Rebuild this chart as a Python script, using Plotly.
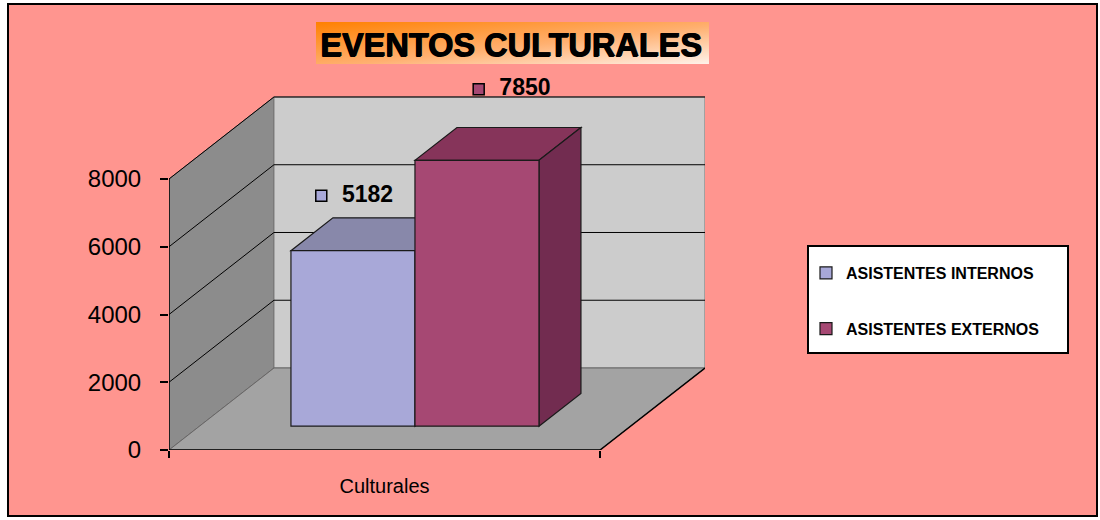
import base64
import plotly.graph_objects as go

# ---- data ----
categories = ["Culturales"]
series_names = ["ASISTENTES INTERNOS", "ASISTENTES EXTERNOS"]
series_values = [5182, 7850]
y_ticks = [0, 2000, 4000, 6000, 8000]
title_text = "EVENTOS CULTURALES"

# ---- style ----
front_colors = ["#a8a8d8", "#a64873"]
top_colors = ["#8888aa", "#86345a"]
side_colors = ["#8e8eb8", "#722c50"]
BG = "#ff958f"
FONT = "Liberation Sans, Arial, sans-serif"

YMAX = 8000
DX, DY = 0.2435, 2421          # full depth vector in axis units
F0, F1 = 0.29, 0.69            # bar depth (front/back fraction)
SLOT = 0.2877                  # bar width in x units

# geometry (pixels)
W, H = 1100, 520
L, B = 169, 70
X_UNIT = 431                   # px per x unit
Y_SCALE = 271 / 8000           # px per y unit
T = 60
R = W - L - round((1 + DX) * X_UNIT)
pw = W - L - R
ph = H - T - B
YTOP = ph / Y_SCALE

def px(xp):  # pixel -> paper x
    return (xp - L) / pw
def py(yp):  # pixel -> paper y
    return (H - B - yp) / ph

fig = go.Figure()
shapes = []

# outer salmon background with border
shapes.append(dict(type="rect", xref="paper", yref="paper", x0=px(8), x1=px(1097), y0=py(516), y1=py(4),
                   fillcolor=BG, line=dict(color="black", width=2), layer="below"))

def path(pts):
    return "M " + " L ".join(f"{x},{y}" for x, y in pts) + " Z"

# left side wall
shapes.append(dict(type="path", xref="x", yref="y", layer="below",
                   path=path([(0, 0), (0, YMAX), (DX, YMAX + DY), (DX, DY)]),
                   fillcolor="#8c8c8c", line=dict(color="#6a6a6a", width=1)))
# back wall
shapes.append(dict(type="path", xref="x", yref="y", layer="below",
                   path=path([(DX, DY), (1 + DX, DY), (1 + DX, YMAX + DY), (DX, YMAX + DY)]),
                   fillcolor="#cccccc", line=dict(color="#777777", width=1)))
# floor
shapes.append(dict(type="path", xref="x", yref="y", layer="below",
                   path=path([(0, 0), (1, 0), (1 + DX, DY), (DX, DY)]),
                   fillcolor="#a3a3a3", line=dict(color="#666666", width=1)))
shapes.append(dict(type="line", xref="x", yref="y", layer="below",
                   x0=1, y0=0, x1=1 + DX, y1=DY, line=dict(color="black", width=1.5)))

# gridlines
for v in y_ticks[1:]:
    shapes.append(dict(type="line", xref="x", yref="y", layer="below",
                       x0=0, y0=v, x1=DX, y1=v + DY, line=dict(color="black", width=1)))
    shapes.append(dict(type="line", xref="x", yref="y", layer="below",
                       x0=DX, y0=v + DY, x1=1 + DX, y1=v + DY, line=dict(color="black", width=1)))

# axis lines
shapes.append(dict(type="line", xref="x", yref="y", x0=0, y0=0, x1=0, y1=YMAX,
                   line=dict(color="black", width=1.5)))
shapes.append(dict(type="line", xref="x", yref="y", x0=0, y0=0, x1=1, y1=0,
                   line=dict(color="black", width=1.5)))

# bars: front faces are bar traces, top/side faces are shapes beneath traces
n = len(series_values)
start = 0.5 - n * SLOT / 2
ox, oy = F0 * DX, F0 * DY
ddx, ddy = (F1 - F0) * DX, (F1 - F0) * DY
for i, (name, v) in enumerate(zip(series_names, series_values)):
    xl = start + i * SLOT + ox
    xr = xl + SLOT
    fig.add_trace(go.Bar(
        x=[(xl + xr) / 2], y=[v], base=[oy], width=[SLOT], name=name,
        legendgroup=name,
        marker=dict(color=front_colors[i], line=dict(color="#1a1a1a", width=1.2)),
        hoverinfo="skip"))
    top = v + oy
    shapes.append(dict(type="path", xref="x", yref="y", layer="below",
                       path=path([(xl, top), (xr, top), (xr + ddx, top + ddy), (xl + ddx, top + ddy)]),
                       fillcolor=top_colors[i], line=dict(color="#1a1a1a", width=1.2)))
    shapes.append(dict(type="path", xref="x", yref="y", layer="below",
                       path=path([(xr, oy), (xr, top), (xr + ddx, top + ddy), (xr + ddx, oy + ddy)]),
                       fillcolor=side_colors[i], line=dict(color="#1a1a1a", width=1.2)))

# data labels (legend key + value)
label_nudge = [(-0.0735, 1620), (0.0040, 2100)]  # offset from bar top-front centre
lx, ly = [], []
for i, v in enumerate(series_values):
    xl = start + i * SLOT + ox
    lx.append(xl + SLOT / 2 + label_nudge[i][0])
    ly.append(v + oy + label_nudge[i][1])
fig.add_trace(go.Scatter(
    x=lx, y=ly, mode="markers+text", text=[f"  {v}" for v in series_values],
    textposition="middle right", cliponaxis=False, showlegend=False, hoverinfo="skip",
    marker=dict(symbol="square", size=11, color=front_colors, line=dict(color="black", width=1.5)),
    textfont=dict(family=FONT, size=23, color="black", weight="bold")))

# title box with gradient (svg image) and text
svg_src = ("<svg xmlns='http://www.w3.org/2000/svg' width='393' height='42' viewBox='0 0 393 42' "
           "preserveAspectRatio='none'>"
           "<defs><linearGradient id='g' x1='0' y1='0' x2='1' y2='1'>"
           "<stop offset='0' stop-color='#ff8000'/><stop offset='0.55' stop-color='#ffb070'/>"
           "<stop offset='1' stop-color='#fff2ea'/>"
           "</linearGradient></defs><rect width='393' height='42' fill='url(#g)'/></svg>")
svg = "data:image/svg+xml;base64," + base64.b64encode(svg_src.encode()).decode()
fig.add_layout_image(dict(source=svg, xref="paper", yref="paper", x=px(316), y=py(22),
                          sizex=px(709) - px(316), sizey=py(22) - py(64),
                          xanchor="left", yanchor="top", sizing="stretch", layer="above"))
fig.add_annotation(text=f"<b>{title_text}</b>", xref="paper", yref="paper",
                   x=px(511), y=py(45), xanchor="center", yanchor="middle", showarrow=False,
                   font=dict(family=FONT, size=32.5, color="black",
                             shadow="1px 0px 0px black, 0px 0.5px 0px black"))

# legend box
shapes.append(dict(type="rect", xref="paper", yref="paper", x0=px(808), x1=px(1068),
                   y0=py(353), y1=py(246), fillcolor="white", line=dict(color="black", width=2)))

fig.update_layout(
    width=W, height=H, margin=dict(l=L, r=R, t=T, b=B, pad=0),
    paper_bgcolor="white", plot_bgcolor="rgba(0,0,0,0)",
    shapes=shapes, barmode="overlay", showlegend=True,
    legend=dict(x=px(806), y=py(256), xanchor="left", yanchor="top",
                bgcolor="rgba(0,0,0,0)", borderwidth=0, traceorder="grouped",
                tracegroupgap=32, itemwidth=30,
                font=dict(family=FONT, size=16, color="black", weight="bold")),
    xaxis=dict(range=[0, 1 + DX], showgrid=False, zeroline=False, showline=False,
               tickvals=[0.5], ticktext=categories, ticks="",
               ticklabelstandoff=22,
               tickfont=dict(family=FONT, size=20, color="black"),
               minor=dict(tickvals=[0, 1], ticks="outside", ticklen=7, tickcolor="black", tickwidth=1.5),
               fixedrange=True),
    yaxis=dict(range=[0, YTOP], showgrid=False, zeroline=False, showline=False,
               tickvals=y_ticks, ticks="outside", ticklen=8, tickcolor="black", tickwidth=1.5,
               ticklabelstandoff=14,
               tickfont=dict(family=FONT, size=24, color="black"), fixedrange=True),
)

fig.write_html("out.html", config={"displayModeBar": False},
               post_script="document.body.style.margin='0';document.body.style.overflow='hidden';")
